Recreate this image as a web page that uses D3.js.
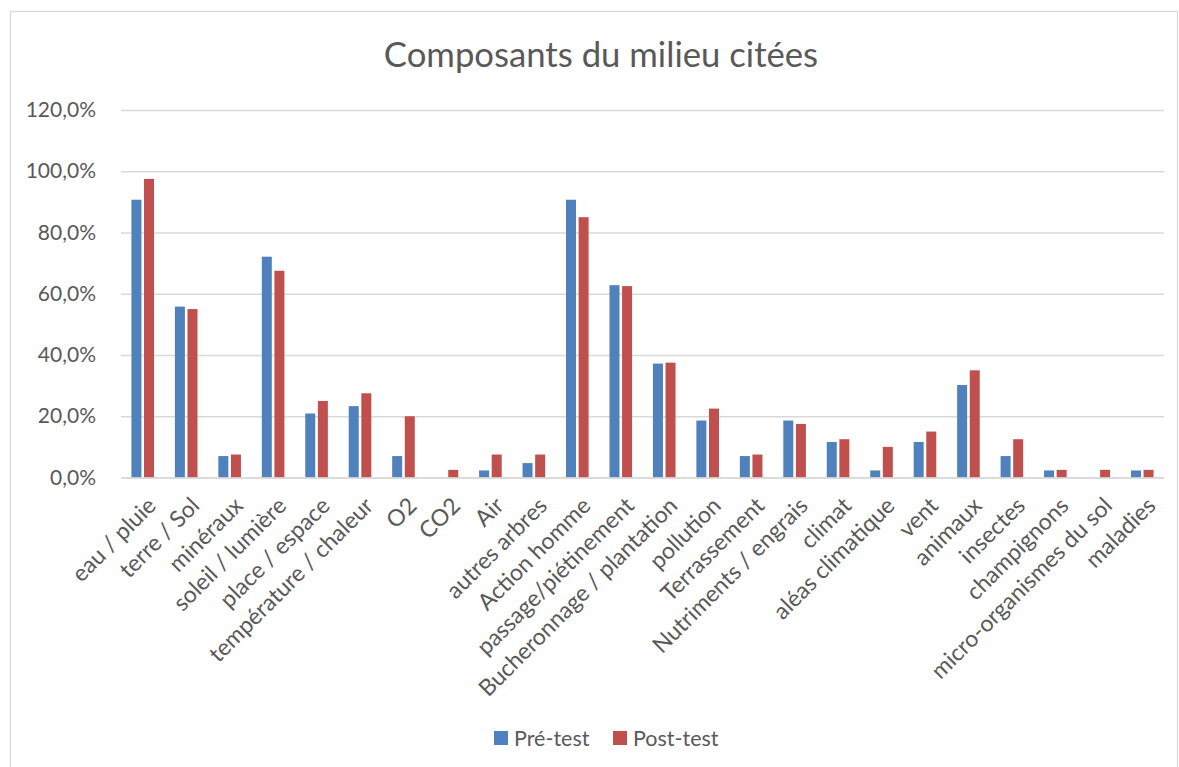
<!DOCTYPE html>
<html>
<head>
<meta charset="utf-8">
<script src="https://cdn.jsdelivr.net/npm/d3@7"></script>
<style>
  body { margin: 0; background: #fff; }
  svg { display: block; font-family: Lato, "Open Sans", sans-serif; }
</style>
</head>
<body>
<svg id="chart" width="1179" height="767"></svg>
<script>
const title = 'Composants du milieu citées';

const categories = [
  'eau / pluie', 'terre / Sol', 'minéraux', 'soleil / lumière', 'place / espace',
  'température / chaleur', 'O2', 'CO2', 'Air', 'autres arbres', 'Action homme',
  'passage/piétinement', 'Bucheronnage / plantation', 'pollution', 'Terrassement',
  'Nutriments / engrais', 'climat', 'aléas climatique', 'vent', 'animaux',
  'insectes', 'champignons', 'micro-organismes du sol', 'maladies'
];

const seriesNames = ['Pré-test', 'Post-test'];

const preTest = [
  0.907, 0.558, 0.070, 0.721, 0.209, 0.233, 0.070, 0, 0.023, 0.047, 0.907,
  0.628, 0.372, 0.186, 0.070, 0.186, 0.116, 0.023, 0.116, 0.302, 0.070,
  0.023, 0, 0.023
];

const postTest = [
  0.975, 0.55, 0.075, 0.675, 0.25, 0.275, 0.20, 0.025, 0.075, 0.075, 0.85,
  0.625, 0.375, 0.225, 0.075, 0.175, 0.125, 0.10, 0.15, 0.35, 0.125,
  0.025, 0.025, 0.025
];

const yTicks = [0, 0.2, 0.4, 0.6, 0.8, 1.0, 1.2];

const colors = ['#4F81BD', '#C0504D'];
const textColor = '#595959';
const gridColor = '#D9D9D9';

const svg = d3.select('#chart');

const plot = { left: 121, right: 1164, top: 110, bottom: 477.5 };

// chart frame
svg.append('rect')
  .attr('x', 10.5)
  .attr('y', 11.5)
  .attr('width', 1167)
  .attr('height', 800)
  .attr('fill', '#fff')
  .attr('stroke', gridColor)
  .attr('stroke-width', 1.3);

svg.append('text')
  .attr('x', 601)
  .attr('y', 67)
  .attr('text-anchor', 'middle')
  .attr('fill', textColor)
  .attr('font-size', 34.7)
  .text(title);

const x = d3.scaleBand()
  .domain(categories)
  .range([plot.left, plot.right]);

const y = d3.scaleLinear()
  .domain([0, 1.2])
  .range([plot.bottom, plot.top]);

const fr = d3.formatLocale({
  decimal: ',', thousands: ' ', grouping: [3], currency: ['', ' €']
});
const pct = fr.format('.1%');

// gridlines
const grid = svg.append('g')
  .attr('transform', `translate(${plot.left},0)`)
  .call(d3.axisRight(y).tickValues(yTicks).tickSize(plot.right - plot.left).tickFormat(''));
grid.select('.domain').remove();
grid.selectAll('.tick line')
  .attr('stroke', gridColor)
  .attr('stroke-width', 1.3);

// y labels
const yAxis = svg.append('g')
  .attr('transform', `translate(${plot.left - 22},0)`)
  .call(d3.axisLeft(y).tickValues(yTicks).tickSize(0).tickFormat(pct));
yAxis.select('.domain').remove();
yAxis.selectAll('text')
  .attr('fill', textColor)
  .attr('font-size', 21)
  .attr('font-family', 'Lato, sans-serif');

// bars
const barW = 10;
const step = 12.6;
const data = categories.map((c, i) => ({ c, vals: [preTest[i], postTest[i]] }));

const groups = svg.append('g')
  .selectAll('g')
  .data(data)
  .enter()
  .append('g')
  .attr('transform', (d) => `translate(${x(d.c) + x.bandwidth() / 2},0)`);

groups.selectAll('rect')
  .data((d) => d.vals)
  .enter()
  .append('rect')
  .attr('x', (v, j) => (j === 0 ? -step / 2 - barW / 2 : step / 2 - barW / 2))
  .attr('y', (v) => y(v))
  .attr('width', barW)
  .attr('height', (v) => plot.bottom - y(v))
  .attr('fill', (v, j) => colors[j]);

// x axis
const xAxis = svg.append('g')
  .attr('transform', `translate(0,${plot.bottom})`)
  .call(d3.axisBottom(x).tickSize(0).tickFormat(''));
xAxis.select('.domain')
  .attr('stroke', gridColor)
  .attr('stroke-width', 1.5);

svg.append('g')
  .selectAll('text')
  .data(categories)
  .enter()
  .append('text')
  .attr('transform', (d) => {
    const cx = x(d) + x.bandwidth() / 2 + 9;
    return `translate(${cx},${plot.bottom + 24}) rotate(-45)`;
  })
  .attr('text-anchor', 'end')
  .attr('dy', '0.35em')
  .attr('fill', textColor)
  .attr('font-size', 23)
  .text((d) => d);

// legend
const legendItems = [
  { name: seriesNames[0], color: colors[0], x: 494 },
  { name: seriesNames[1], color: colors[1], x: 613 }
];
const legend = svg.append('g');
legend.selectAll('rect')
  .data(legendItems)
  .enter()
  .append('rect')
  .attr('x', (d) => d.x)
  .attr('y', 731)
  .attr('width', 14)
  .attr('height', 14)
  .attr('fill', (d) => d.color);
legend.selectAll('text')
  .data(legendItems)
  .enter()
  .append('text')
  .attr('x', (d) => d.x + 20)
  .attr('y', 738)
  .attr('dy', '0.35em')
  .attr('fill', textColor)
  .attr('font-size', 21.5)
  .text((d) => d.name);
</script>
</body>
</html>
